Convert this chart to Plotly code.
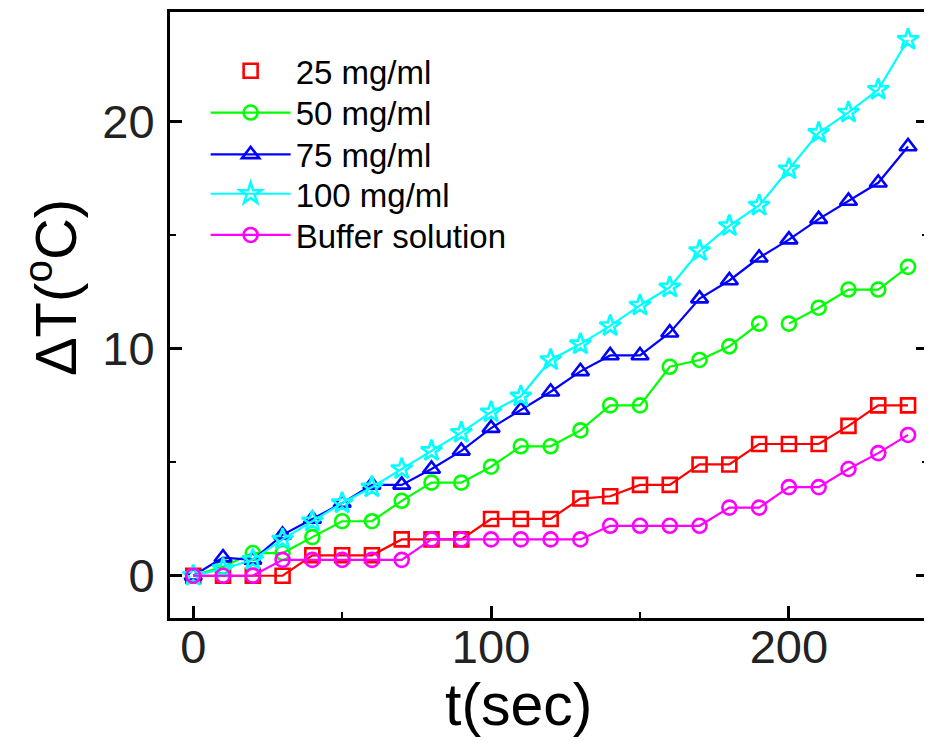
import plotly.graph_objects as go

# time axis (sec)
t = [0, 10, 20, 30, 40, 50, 60, 70, 80, 90, 100, 110, 120,
     130, 140, 150, 160, 170, 180, 190, 200, 210, 220, 230, 240]

# temperature rise
dt_25 = [0, 0, 0, 0, 0.9, 0.9, 0.9, 1.6, 1.6, 1.6, 2.5, 2.5, 2.5,
         3.4, 3.5, 4.0, 4.0, 4.9, 4.9, 5.8, 5.8, 5.8, 6.6, 7.5, 7.5]
dt_50 = [0, 0.4, 1.0, 1.0, 1.7, 2.4, 2.4, 3.3, 4.1, 4.1, 4.8, 5.7, 5.7,
         6.4, 7.5, 7.5, 9.2, 9.5, 10.1, 11.1, 11.1, 11.8, 12.6, 12.6, 13.6]
dt_75 = [0, 0.8, 0.7, 1.8, 2.5, 3.2, 4.0, 4.0, 4.7, 5.5, 6.5, 7.3, 8.1,
         9.0, 9.7, 9.7, 10.7, 12.2, 13.0, 14.0, 14.8, 15.7, 16.5, 17.3, 18.9]
dt_100 = [0, 0.3, 0.7, 1.6, 2.4, 3.2, 3.9, 4.7, 5.5, 6.3, 7.2, 7.9, 9.5,
          10.2, 11.0, 11.9, 12.7, 14.3, 15.4, 16.3, 17.9, 19.5, 20.4, 21.4, 23.6]
dt_buffer = [0, 0, 0, 0.7, 0.7, 0.7, 0.7, 0.7, 1.6, 1.6, 1.6, 1.6, 1.6,
             1.6, 2.2, 2.2, 2.2, 2.2, 3.0, 3.0, 3.9, 3.9, 4.7, 5.4, 6.2]

# the 50 mg/ml curve is broken between 190 and 200 s
gap_at = t.index(200)

FONT = 'Liberation Sans, Arial, sans-serif'
MW = 2.6  # marker outline width

fig = go.Figure()

# 25 mg/ml: legend shows the marker only
fig.add_trace(go.Scatter(
    x=[None], y=[None], mode='markers', name='25 mg/ml', legend='legend',
    marker=dict(symbol='square-open', size=14, color='#FF0000', line=dict(width=MW))
))
fig.add_trace(go.Scatter(
    x=t, y=dt_25, mode='lines+markers', name='25 mg/ml', showlegend=False,
    line=dict(color='#FF0000', width=2.2),
    marker=dict(symbol='square-open', size=14, line=dict(width=MW))
))
fig.add_trace(go.Scatter(
    x=t[:gap_at] + [None] + t[gap_at:],
    y=dt_50[:gap_at] + [None] + dt_50[gap_at:],
    mode='lines+markers', name='50 mg/ml', connectgaps=False, legend='legend2',
    line=dict(color='#00FF00', width=2.2),
    marker=dict(symbol='circle-open', size=14, line=dict(width=MW))
))
fig.add_trace(go.Scatter(
    x=t, y=dt_75, mode='lines+markers', name='75 mg/ml', legend='legend3',
    line=dict(color='#0000FF', width=2.2),
    marker=dict(symbol='triangle-up-open', size=15, line=dict(width=MW))
))
fig.add_trace(go.Scatter(
    x=t, y=dt_100, mode='lines+markers', name='100 mg/ml', legend='legend4',
    line=dict(color='#00FFFF', width=2.2),
    marker=dict(symbol='star-open', size=16, line=dict(width=MW))
))
fig.add_trace(go.Scatter(
    x=t, y=dt_buffer, mode='lines+markers', name='Buffer solution', legend='legend5',
    line=dict(color='#FF00FF', width=2.2),
    marker=dict(symbol='circle-open', size=14, line=dict(width=MW))
))

fig.update_xaxes(
    range=[-7.8, 246.7], tickvals=[0, 100, 200],
    ticks='inside', ticklen=12, tickwidth=3, tickcolor='black',
    minor=dict(tickvals=[50, 150], ticks='inside', ticklen=6, tickwidth=2, tickcolor='black'),
    showline=True, linewidth=3, linecolor='black', mirror=True,
    showgrid=False, zeroline=False, ticklabelstandoff=-14,
    tickfont=dict(family=FONT, size=47, color='#222222')
)
fig.update_yaxes(
    range=[-1.86, 24.82], tickvals=[0, 10, 20],
    ticks='inside', ticklen=12, tickwidth=3, tickcolor='black',
    minor=dict(tickvals=[5, 15], ticks='inside', ticklen=6, tickwidth=2, tickcolor='black'),
    showline=True, linewidth=3, linecolor='black', mirror='ticks',
    showgrid=False, zeroline=False, ticklabelstandoff=3,
    tickfont=dict(family=FONT, size=47, color='#222222')
)

fig.add_annotation(
    text='t(sec)', xref='paper', yref='paper', x=0.461, y=-0.143,
    xanchor='center', yanchor='middle', showarrow=False,
    font=dict(family=FONT, size=59, color='black')
)
fig.add_annotation(
    text='ΔT(<sup>o</sup>C)', xref='paper', yref='paper', x=-0.157, y=0.546,
    xanchor='center', yanchor='middle', textangle=-90, showarrow=False,
    font=dict(family=FONT, size=58, color='black')
)

legend_style = dict(
    x=0.047, xanchor='left', yanchor='middle',
    bgcolor='rgba(0,0,0,0)', itemwidth=80,
    font=dict(family=FONT, size=33, color='black')
)

# the page body adds an 8px offset, so the figure is 8px smaller each way
fig.update_layout(
    width=924, height=735,
    margin=dict(l=162, r=1, t=1, b=125),
    plot_bgcolor='white', paper_bgcolor='white',
    legend=dict(y=0.903, **legend_style),
    legend2=dict(y=0.834, **legend_style),
    legend3=dict(y=0.765, **legend_style),
    legend4=dict(y=0.700, **legend_style),
    legend5=dict(y=0.632, **legend_style),
)

fig.write_html("out.html")
